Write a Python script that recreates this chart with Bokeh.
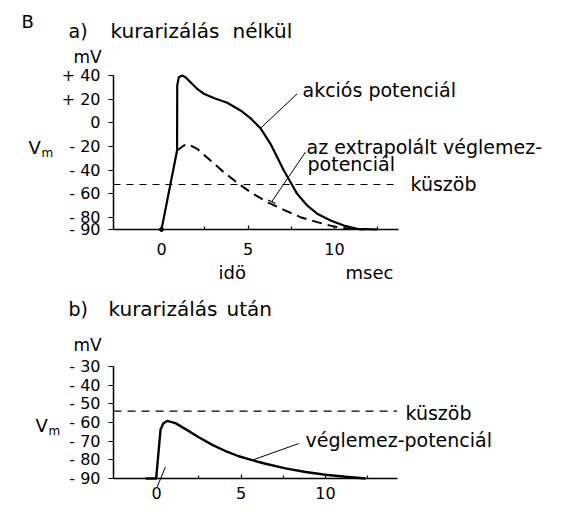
from bokeh.plotting import figure
from bokeh.models import Label, FixedTicker
from bokeh.layouts import column
from bokeh.embed import file_html
from bokeh.resources import INLINE

FONT = "DejaVu Sans"

# ---------------- panel a: kurarizálás nélkül ----------------
ap_t = [0, 0.9, 0.91, 1.0, 1.2, 1.39, 1.68, 2.06, 2.45, 3.02, 3.8, 4.57, 5.14, 5.72,
        6.3, 6.69, 7.07, 7.46, 7.84, 8.42, 9.0, 9.77, 10.54, 11.31, 12.47]
ap_v = [-90, -23.3, 31.6, 38.6, 40, 38.6, 34.3, 28.8, 24.6, 21, 17, 10.5, 4, -4.5,
        -17.7, -29, -40.2, -50.1, -59.9, -69.7, -76.7, -82.4, -86.6, -89.4, -90]
epp_ext_t = [0.9, 1.29, 1.55, 2.06, 2.83, 3.6, 4.37, 5.14, 6.2, 7.07, 8.03, 9.0, 9.96, 10.9, 11.7]
epp_ext_v = [-23.3, -19.1, -18.0, -21.9, -31.8, -41.6, -50.5, -58.5, -67.5, -73.4, -79.6, -83.8, -87.5, -89.4, -90]
threshold_a = -52
a_xticks = [0, 5, 10]
a_xminor = [2.5, 7.5, 12.5]
a_yticks = [40, 20, 0, -20, -40, -60, -80, -90]
a_ylabels = ["+ 40", "+ 20", "0", "- 20", "- 40", "- 60", "- 80", "- 90"]
a_xbounds = (-2.775, 13.7)
a_ybounds = (-90, 40)
a_leader_ap_t = [5.72, 7.84]
a_leader_ap_v = [-4.5, 24.5]
a_leader_epp_t = [6.36, 8.32]
a_leader_epp_v = [-66.8, -24.7]
a_bar_epp_t = [6.16, 6.59]
a_bar_epp_v = [-65.1, -68.1]

# ---------------- panel b: kurarizálás után ----------------
b_t = [-0.65, -0.02, 0.24, 0.41, 0.63, 1.12, 1.72, 2.5, 3.3, 4.08, 4.87, 5.66,
       6.45, 7.63, 8.82, 10.0, 11.18, 12.37]
b_v = [-90, -90, -63.8, -60.5, -59.2, -60.4, -63.6, -67.9, -72.0, -75.3, -78.1, -80.2,
       -82.1, -84.6, -86.5, -88.0, -89.1, -90]
threshold_b = -54
b_xticks = [0, 5, 10]
b_xminor = [2.5, 7.5, 12.5]
b_yticks = [-30, -40, -50, -60, -70, -80, -90]
b_ylabels = ["- 30", "- 40", "- 50", "- 60", "- 70", "- 80", "- 90"]
b_xbounds = (-2.544, 14.24)
b_ybounds = (-90, -30)
b_leader_t = [5.66, 8.42]
b_leader_v = [-80.2, -71.3]
b_stim_t = [0.04, 0.53]
b_stim_v = [-94.5, -83.8]

W = 572
HA = 288
HB = 224
TEXT_SHIFT = 6  # renderer places alphabetic baseline a little low


# page pixel -> data helpers (used for frame extents and text placement)
def a_x(px):
    return (px - 161) / 17.3


def a_y(py):
    return -90 + (229 - py) / 1.1846


def b_x(px):
    return (px - 156) / 16.9


def b_y(py):  # py measured from page top
    return -90 + (478 - py) / 1.87


def style(p, xt, xm, yt, ylab, xb, yb, xstand):
    p.grid.visible = False
    p.outline_line_color = None
    p.background_fill_color = "white"
    p.border_fill_color = "white"
    xa = p.xaxis[0]
    ya = p.yaxis[0]
    xa.fixed_location = yb[0]
    ya.fixed_location = xb[0]
    xa.ticker = FixedTicker(ticks=xt, minor_ticks=xm)
    ya.ticker = FixedTicker(ticks=yt, minor_ticks=[])
    ya.major_label_overrides = {v: s for v, s in zip(yt, ylab)}
    xa.bounds = xb
    ya.bounds = yb
    for ax in (xa, ya):
        ax.axis_line_color = "black"
        ax.axis_line_width = 1.5
        ax.major_tick_line_color = "black"
        ax.major_tick_line_width = 1.2
        ax.minor_tick_line_color = "black"
        ax.minor_tick_line_width = 1.2
        ax.major_label_text_font = FONT
        ax.major_label_text_font_size = "16px"
        ax.major_label_text_color = "black"
    xa.major_tick_in = 4
    xa.major_tick_out = 0
    xa.minor_tick_in = 3
    xa.minor_tick_out = 0
    xa.major_label_standoff = xstand
    ya.major_tick_in = 0
    ya.major_tick_out = 5
    ya.minor_tick_in = 0
    ya.minor_tick_out = 0
    ya.major_label_standoff = 8


def add_text(p, fx, fy, txt, px, py, size="19px"):
    p.add_layout(Label(x=fx(px), y=fy(py - TEXT_SHIFT), text=txt, text_font=FONT,
                       text_font_size=size, text_color="black",
                       text_baseline="alphabetic", text_align="left"))


# ---------- figure a ----------
pa = figure(width=W, height=HA, x_range=(a_x(0), a_x(W)), y_range=(a_y(HA), a_y(0)),
            output_backend="svg", toolbar_location=None,
            min_border_left=0, min_border_right=0, min_border_top=0, min_border_bottom=0)
style(pa, a_xticks, a_xminor, a_yticks, a_ylabels, a_xbounds, a_ybounds, 13)

pa.line([a_xbounds[0], a_xbounds[1]], [threshold_a, threshold_a], line_color="black",
        line_width=1.2, line_dash="7 6")
pa.line(epp_ext_t, epp_ext_v, line_color="black", line_width=2, line_dash="10 6")
pa.line(ap_t, ap_v, line_color="black", line_width=2.2, line_join="round")
pa.scatter([ap_t[0]], [ap_v[0]], size=4, color="black")
pa.line(a_leader_ap_t, a_leader_ap_v, line_color="black", line_width=1)
pa.line(a_leader_epp_t, a_leader_epp_v, line_color="black", line_width=1)
pa.line(a_bar_epp_t, a_bar_epp_v, line_color="black", line_width=1.2)

add_text(pa, a_x, a_y, "B", 21, 27, "18px")
add_text(pa, a_x, a_y, "a)", 68, 36)
add_text(pa, a_x, a_y, "kurarizálás", 110, 36, "20px")
add_text(pa, a_x, a_y, "nélkül", 232, 36, "20px")
add_text(pa, a_x, a_y, "mV", 73, 62, "17px")
add_text(pa, a_x, a_y, "V", 28, 153, "18px")
add_text(pa, a_x, a_y, "m", 41, 158, "12px")
add_text(pa, a_x, a_y, "akciós potenciál", 302, 95)
add_text(pa, a_x, a_y, "az extrapolált véglemez-", 306, 152)
add_text(pa, a_x, a_y, "potenciál", 307, 169)
add_text(pa, a_x, a_y, "küszöb", 410, 189)
add_text(pa, a_x, a_y, "idö", 218, 278, "18px")
add_text(pa, a_x, a_y, "msec", 345, 278, "18px")

# ---------- figure b ----------
pb = figure(width=W, height=HB, x_range=(b_x(0), b_x(W)), y_range=(b_y(HA + HB), b_y(HA)),
            output_backend="svg", toolbar_location=None,
            min_border_left=0, min_border_right=0, min_border_top=0, min_border_bottom=0)
style(pb, b_xticks, b_xminor, b_yticks, b_ylabels, b_xbounds, b_ybounds, 8)

pb.line([b_xbounds[0], b_xbounds[1]], [threshold_b, threshold_b], line_color="black",
        line_width=1.2, line_dash="8 6")
pb.line(b_t, b_v, line_color="black", line_width=2.4, line_join="round")
pb.line(b_leader_t, b_leader_v, line_color="black", line_width=1)
pb.line(b_stim_t, b_stim_v, line_color="black", line_width=1)

add_text(pb, b_x, b_y, "b)", 68, 314)
add_text(pb, b_x, b_y, "kurarizálás", 108, 314, "20px")
add_text(pb, b_x, b_y, "után", 226, 314, "20px")
add_text(pb, b_x, b_y, "mV", 73, 350, "17px")
add_text(pb, b_x, b_y, "V", 35, 431, "18px")
add_text(pb, b_x, b_y, "m", 48, 436, "12px")
add_text(pb, b_x, b_y, "küszöb", 405, 418)
add_text(pb, b_x, b_y, "véglemez-potenciál", 305, 445)

layout = column(pa, pb, spacing=0)
open("out.html", "w").write(file_html(layout, INLINE))
